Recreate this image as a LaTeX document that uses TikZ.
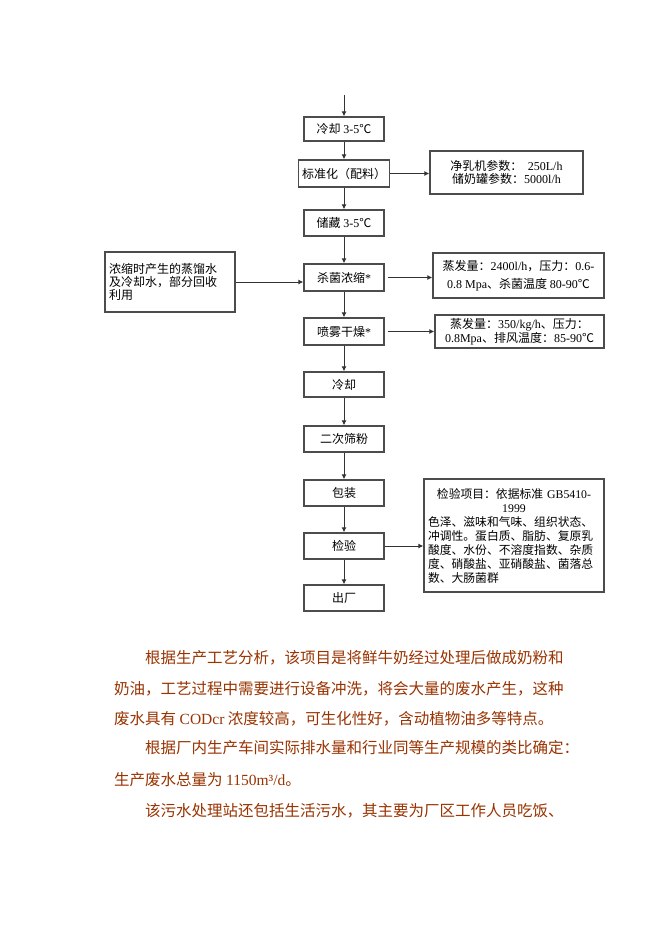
\documentclass[tikz,border=0pt]{standalone}
\usepackage{fontspec}
\setmainfont{Noto Sans CJK SC}
\newfontfamily\lt{Liberation Serif}
\usetikzlibrary{arrows.meta}
\definecolor{brn}{HTML}{993300}
\tikzset{
  box/.style={draw=black!70,line width=1.3pt,inner sep=0pt,minimum width=80pt,minimum height=26pt,
    font=\fontsize{12}{13}\selectfont,align=center},
  arr/.style={draw=black!80,line width=1pt,-{Latex[length=5pt,width=5pt]}},
  para/.style={anchor=west,inner sep=0pt,text=brn,font=\fontsize{15.5}{15.5}\selectfont}
}

\begin{document}
\begin{tikzpicture}[x=1pt,y=-1pt]
\fill[white] (0,0) rectangle (662,936);
\useasboundingbox (0,0) rectangle (662,936);
\coordinate (top) at (344,95);
\node[box,minimum height=24pt] (c1) at (344,129) {冷却 {\lt 3-5}℃};
\node[box,minimum width=91pt,minimum height=27pt] (c2) at (344,173.5) {标准化（配料）};
\node[box] (c3) at (344,223) {储藏 {\lt 3-5}℃};
\node[box,minimum height=27pt] (c4) at (344,277.5) {杀菌浓缩{\lt *}};
\node[box,minimum height=27pt] (c5) at (344,331.5) {喷雾干燥{\lt *}};
\node[box,minimum height=25pt] (c6) at (344,384.5) {冷却};
\node[box] (c7) at (344,439) {二次筛粉};
\node[box] (c8) at (344,493) {包装};
\node[box] (c9) at (344,546) {检验};
\node[box] (c10) at (344,598) {出厂};
\node[box,minimum width=153pt,minimum height=43pt] (r1) at (506.5,172.5)
  {净乳机参数：~~{\lt 250L/h}\\储奶罐参数：{\lt 5000l/h}};
\node[box,minimum width=130pt,minimum height=60pt,text width=122pt,align=left] (l1) at (170,282)
  {浓缩时产生的蒸馏水\\及冷却水，部分回收\\利用};
\node[box,minimum width=171pt,minimum height=45pt,font=\fontsize{12}{18}\selectfont] (r2) at (518.5,275.5)
  {蒸发量：{\lt 2400l/h}，压力：{\lt 0.6-}\\{\lt 0.8 Mpa}、杀菌温度 {\lt 80-90}℃};
\node[box,minimum width=169pt,minimum height=33pt,font=\fontsize{12}{14}\selectfont] (r3) at (519.5,331.5)
  {蒸发量：{\lt 350/kg/h}、压力：\\{\lt 0.8Mpa}、排风温度：{\lt 85-90}℃};
\node[box,minimum width=180pt,minimum height=113pt,text width=172pt,align=left,
  font=\fontsize{11.8}{14}\selectfont] (r4) at (514,535.5)
  {\makebox[\linewidth]{检验项目：依据标准 {\lt GB5410-}}\\
   \makebox[\linewidth]{\lt 1999}\\
   色泽、滋味和气味、组织状态、\\
   冲调性。蛋白质、脂肪、复原乳\\
   酸度、水份、不溶度指数、杂质\\
   度、硝酸盐、亚硝酸盐、菌落总\\
   数、大肠菌群};
\foreach \a/\b in {top/c1,c1/c2,c2/c3,c3/c4,c4/c5,c5/c6,c6/c7,c7/c8,c8/c9,c9/c10}
  \draw[arr] (\a) -- (\b);
\draw[arr] (c2.east) -- (c2.east -| r1.west);
\draw[arr] (l1.east) -- (l1.east -| c4.west);
\draw[arr] ([xshift=3pt]c4.east) -- (c4.east -| r2.west);
\draw[arr] ([xshift=3pt]c5.east) -- (c5.east -| r3.west);
\draw[arr] (c9.east) -- (c9.east -| r4.west);
\node[para] (p1) at (145,658) {根据生产工艺分析，该项目是将鲜牛奶经过处理后做成奶粉和};
\node[para] (p2) at (114,689) {奶油，工艺过程中需要进行设备冲洗，将会大量的废水产生，这种};
\node[para] (p3) at (114,719) {废水具有 {\lt CODcr} 浓度较高，可生化性好，含动植物油多等特点。};
\node[para] (p4) at (145,748) {根据厂内生产车间实际排水量和行业同等生产规模的类比确定：};
\node[para] (p5) at (114,780) {生产废水总量为 {\lt 1150m³/d}。};
\node[para] (p6) at (145,811) {该污水处理站还包括生活污水，其主要为厂区工作人员吃饭、};
\end{tikzpicture}
\end{document}
